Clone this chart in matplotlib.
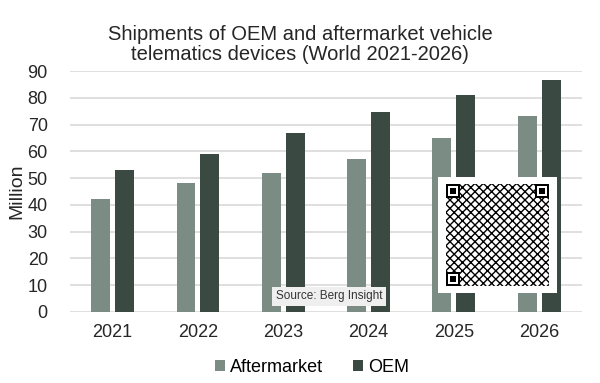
import matplotlib.pyplot as plt
import matplotlib.patches as patches
import numpy as np

years = ["2021", "2022", "2023", "2024", "2025", "2026"]
aftermarket = [42, 48, 52, 57, 65, 73]
oem = [53, 59, 67, 74.5, 81, 86.5]

c_after = "#7b8c85"
c_oem = "#3b4943"

plt.rcParams['font.family'] = ['Liberation Sans', 'DejaVu Sans']

fig = plt.figure(figsize=(6, 3.83), dpi=100)
ax = fig.add_axes([0.1167, 0.186, 0.853, 0.6286])

x = np.arange(len(years))
w = 0.222
ax.bar(x - 0.14, aftermarket, w, color=c_after, label="Aftermarket", zorder=3)
ax.bar(x + 0.14, oem, w, color=c_oem, label="OEM", zorder=3)

ax.set_xlim(-0.5, len(years) - 0.5)
ax.set_ylim(0, 90)
ax.set_yticks(range(0, 91, 10))
ax.set_xticks(x)
ax.set_xticklabels(years)
ax.grid(axis="y", color="#d9d9d9", linewidth=1.2, zorder=0)
for s in ax.spines.values():
    s.set_visible(False)
ax.tick_params(length=0, labelsize=13, colors="#262626")
ax.tick_params(axis="y", pad=16)
ax.tick_params(axis="x", pad=9)
ax.set_ylabel("Million", fontsize=14, color="#262626")
ax.yaxis.set_label_coords(-0.088, 0.5)

fig.suptitle("Shipments of OEM and aftermarket vehicle\ntelematics devices (World 2021-2026)",
             fontsize=14.5, color="#262626", y=0.935, linespacing=1.05)

leg = fig.legend(loc="lower center", bbox_to_anchor=(0.52, -0.025), ncol=2, frameon=False,
                 fontsize=13, handlelength=0.55, handleheight=0.55, handletextpad=0.25,
                 columnspacing=1.7)

# source note
fig.text(0.5483, 0.226, "Source: Berg Insight", fontsize=8.5, color="#333333",
         ha="center", va="center",
         bbox=dict(boxstyle="square,pad=0.3", fc="#efefef", ec="none"))

# QR code placeholder box
tf = fig.transFigure
fig.patches.append(patches.Rectangle((438 / 600, 1 - 293 / 383), 119 / 600, 116 / 383,
                                     transform=tf, fc="white", ec="none", zorder=5))
fig.patches.append(patches.Rectangle((446 / 600, 1 - 286 / 383), 103 / 600, 102 / 383,
                                     transform=tf, fc="white", ec="black",
                                     hatch="xxxx", lw=0, zorder=6))
for px, py in [(446, 184), (535, 184), (446, 272)]:
    fig.patches.append(patches.Rectangle((px / 600, 1 - (py + 14) / 383), 14 / 600, 14 / 383,
                                         transform=tf, fc="black", ec="none", zorder=7))
    fig.patches.append(patches.Rectangle(((px + 2) / 600, 1 - (py + 12) / 383), 10 / 600, 10 / 383,
                                         transform=tf, fc="white", ec="none", zorder=8))
    fig.patches.append(patches.Rectangle(((px + 4) / 600, 1 - (py + 10) / 383), 6 / 600, 6 / 383,
                                         transform=tf, fc="black", ec="none", zorder=9))

fig.savefig("out.png", dpi=100)
